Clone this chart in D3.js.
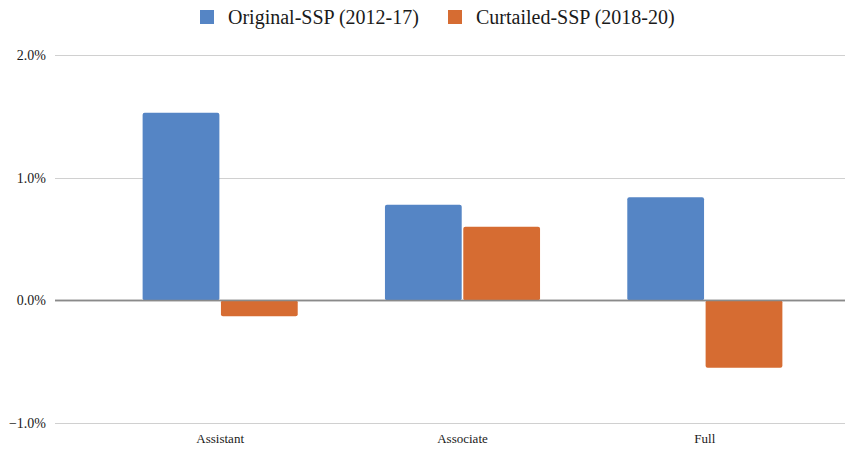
<!DOCTYPE html>
<html>
<head>
<meta charset="utf-8">
<script src="https://cdn.jsdelivr.net/npm/d3@7"></script>
<style>
  body { margin: 0; background: #fff; }
</style>
</head>
<body>
<div id="chart"></div>
<script>
// chart data
var categories = ["Assistant", "Associate", "Full"];
var seriesNames = ["Original-SSP (2012-17)", "Curtailed-SSP (2018-20)"];
var original = [0.0153, 0.0078, 0.0084];
var curtailed = [-0.0013, 0.0060, -0.0055];
var yTicks = [-0.01, 0, 0.01, 0.02];
var colors = ["#5585c5", "#d66c32"];

var w = 859, h = 451;
var plotLeft = 55, plotRight = 845;

var svg = d3.select("#chart")
  .append("svg")
  .attr("width", w)
  .attr("height", h)
  .style("font-family", "'Liberation Serif'");

// y scale: 2% at 55px, -1% at 423px
var y = d3.scaleLinear()
  .domain([-0.01, 0.02])
  .range([423, 55]);

var x = d3.scaleBand()
  .domain(categories)
  .range([99, 826])
  .paddingInner(0.36)
  .paddingOuter(0.18);

var xSub = d3.scaleBand()
  .domain(seriesNames)
  .range([0, x.bandwidth()])
  .paddingInner(0.02);

// gridlines
svg.append("g")
  .selectAll("line")
  .data(yTicks)
  .enter().append("line")
  .attr("x1", plotLeft)
  .attr("x2", plotRight)
  .attr("y1", d => Math.round(y(d)) + 0.5)
  .attr("y2", d => Math.round(y(d)) + 0.5)
  .attr("stroke", d => d === 0 ? "#8a8a8a" : "#d0d0d0")
  .attr("stroke-width", d => d === 0 ? 1.3 : 1);

// y labels
var fmt = d3.format(".1%");
svg.append("g")
  .selectAll("text")
  .data(yTicks)
  .enter().append("text")
  .attr("x", 46)
  .attr("y", d => y(d))
  .attr("dy", "0.35em")
  .attr("fill", "#1a1a1a")
  .style("text-anchor", "end")
  .style("font-size", "14px")
  .text(d => fmt(d));

// bars
var rows = categories.map(function(c, i) {
  return { cat: c, values: [original[i], curtailed[i]] };
});

var groups = svg.append("g")
  .selectAll("g")
  .data(rows)
  .enter().append("g")
  .attr("transform", d => "translate(" + x(d.cat) + ",0)");

groups.selectAll("rect")
  .data(d => d.values.map((v, j) => ({ v: v, s: seriesNames[j], j: j })))
  .enter().append("rect")
  .attr("x", d => xSub(d.s))
  .attr("width", xSub.bandwidth())
  .attr("y", d => y(Math.max(0, d.v)))
  .attr("height", d => Math.abs(y(d.v) - y(0)))
  .attr("rx", 2)
  .attr("fill", d => colors[d.j]);

// redraw zero line over bars
svg.append("line")
  .attr("x1", plotLeft)
  .attr("x2", plotRight)
  .attr("y1", Math.round(y(0)) + 0.5)
  .attr("y2", Math.round(y(0)) + 0.5)
  .attr("stroke", "#8a8a8a")
  .attr("stroke-width", 1.3);

// x labels
svg.append("g")
  .selectAll("text")
  .data(categories)
  .enter().append("text")
  .attr("x", d => x(d) + x.bandwidth() / 2)
  .attr("y", 443)
  .attr("fill", "#1a1a1a")
  .style("text-anchor", "middle")
  .style("font-size", "13px")
  .text(d => d);

// legend
var legendX = [200, 448];
var legend = svg.append("g")
  .selectAll("g")
  .data(seriesNames)
  .enter().append("g")
  .attr("transform", (d, i) => "translate(" + legendX[i] + ",10)");

legend.append("rect")
  .attr("width", 14)
  .attr("height", 14)
  .attr("fill", (d, i) => colors[i]);

legend.append("text")
  .attr("x", 28)
  .attr("y", 7)
  .attr("dy", "0.35em")
  .attr("fill", "#1a1a1a")
  .style("font-size", "20px")
  .text(d => d);
</script>
</body>
</html>
